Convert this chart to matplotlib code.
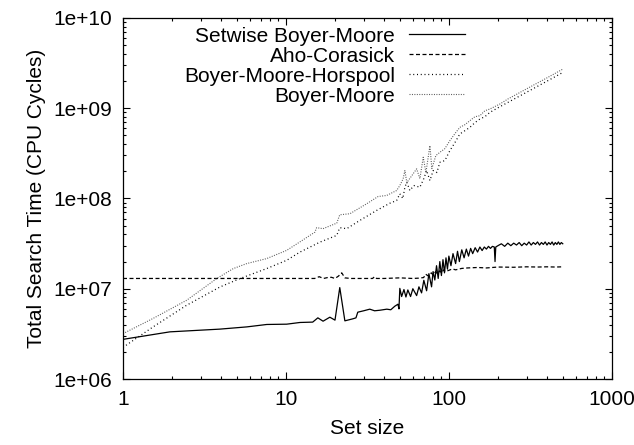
import matplotlib
matplotlib.use("Agg")
import matplotlib.pyplot as plt
from matplotlib.ticker import FixedLocator, FuncFormatter, NullFormatter, LogLocator

plt.rcParams['font.family'] = ['Liberation Sans', 'DejaVu Sans']
plt.rcParams['font.size'] = 15

# Setwise Boyer-Moore
sbm_x = [1, 1.94, 3.93, 5.76, 7.63, 10.1, 12.2, 14.6, 15.7, 16.9, 18.6, 20, 21.4, 23, 25.7,
         26.9, 27.6, 30, 32.7, 35, 37.7, 41.6, 44, 46.6, 48.7, 49.4, 50, 51.3, 53.0, 54.5,
         56.0, 58.2, 60.1, 63.4, 65.5, 68.0, 70.2, 73.0, 75.4, 78.3, 80, 82, 84, 86, 88,
         90, 92, 94, 96, 98, 100, 103, 106, 110, 113, 116, 120, 124, 128, 132, 136, 140,
         145, 150, 155, 160, 165, 170, 175, 180, 185, 190, 192, 194, 200, 210, 220, 230,
         240, 250, 260, 270, 280, 290, 300, 310, 320, 330, 340, 350, 360, 370, 380, 390,
         400, 410, 420, 430, 440, 450, 460, 470, 480, 490, 500]
sbm_y = [2.75e6, 3.33e6, 3.57e6, 3.78e6, 4.02e6, 4.05e6, 4.23e6, 4.27e6, 4.76e6, 4.37e6,
         4.84e6, 4.49e6, 1.03e7, 4.41e6, 4.64e6, 4.76e6, 5.5e6, 5.7e6, 5.94e6, 5.7e6,
         5.78e6, 5.94e6, 5.85e6, 6.41e6, 6.74e6, 5.98e6, 1.01e7, 8.2e6, 9.8e6, 8.1e6,
         9.7e6, 8.2e6, 1.0e7, 8.4e6, 1.05e7, 9.0e6, 1.24e7, 9.5e6, 1.47e7, 1.05e7, 1.55e7,
         1.25e7, 1.8e7, 1.3e7, 2.0e7, 1.4e7, 2.1e7, 1.5e7, 2.2e7, 1.65e7, 2.3e7, 1.8e7,
         2.45e7, 1.9e7, 2.6e7, 2.0e7, 2.7e7, 2.2e7, 2.75e7, 2.3e7, 2.8e7, 2.45e7, 2.85e7,
         2.55e7, 2.9e7, 2.65e7, 2.9e7, 2.75e7, 2.95e7, 2.8e7, 2.95e7, 2.9e7, 2.0e7, 2.9e7,
         3.0e7, 3.15e7, 2.95e7, 3.2e7, 3.0e7, 3.2e7, 3.05e7, 3.25e7, 3.0e7, 3.2e7, 3.05e7,
         3.3e7, 3.05e7, 3.25e7, 3.1e7, 3.3e7, 3.05e7, 3.25e7, 3.1e7, 3.3e7, 3.05e7, 3.25e7,
         3.1e7, 3.3e7, 3.05e7, 3.25e7, 3.1e7, 3.3e7, 3.1e7, 3.25e7, 3.15e7]

# Aho-Corasick
ac_x = [1, 2, 3, 5, 8, 12, 15, 16, 17, 18, 19, 20, 21, 22, 23, 25, 30, 34, 35, 36, 40, 50,
        60, 65, 70, 72, 75, 78, 80, 83, 85, 88, 90, 93, 95, 100, 105, 110, 120, 130, 150,
        170, 200, 250, 300, 350, 400, 450, 500]
ac_y = [1.30e7, 1.30e7, 1.30e7, 1.30e7, 1.30e7, 1.30e7, 1.30e7, 1.36e7, 1.30e7, 1.33e7,
        1.34e7, 1.30e7, 1.38e7, 1.50e7, 1.32e7, 1.30e7, 1.30e7, 1.30e7, 1.36e7, 1.30e7,
        1.30e7, 1.32e7, 1.30e7, 1.31e7, 1.33e7, 1.45e7, 1.38e7, 1.50e7, 1.42e7, 1.55e7,
        1.46e7, 1.58e7, 1.50e7, 1.62e7, 1.55e7, 1.60e7, 1.66e7, 1.62e7, 1.68e7, 1.70e7,
        1.72e7, 1.70e7, 1.74e7, 1.73e7, 1.75e7, 1.74e7, 1.75e7, 1.74e7, 1.75e7]

# Boyer-Moore-Horspool
bmh_x = [1, 1.05, 1.53, 2.46, 3.94, 5.22, 7.61, 10.1, 12.2, 16.2, 20.5, 21.4, 23.6, 28.4,
         36.0, 43.5, 47.8, 50, 52.2, 53.7, 55.2, 57.6, 61.0, 66.4, 70.2, 73.0, 76.5, 80.1,
         84.4, 88.1, 94.5, 101.4, 108.9, 116.8, 125.4, 134.6, 144.4, 155, 166.3, 178.4,
         205.5, 230, 300, 400, 500]
bmh_y = [2.23e6, 2.38e6, 3.78e6, 6.57e6, 1.047e7, 1.297e7, 1.672e7, 2.065e7, 2.55e7, 3.29e7,
         3.90e7, 4.75e7, 4.63e7, 5.71e7, 7.37e7, 8.87e7, 9.5e7, 1.127e8, 1.0e8, 1.333e8,
         1.514e8, 1.226e8, 1.392e8, 1.333e8, 1.663e8, 2.04e8, 1.58e8, 2.04e8, 1.94e8,
         2.52e8, 2.63e8, 3.39e8, 4.16e8, 5.19e8, 5.64e8, 6.14e8, 6.92e8, 7.6e8, 8.05e8,
         8.99e8, 1.039e9, 1.159e9, 1.504e9, 1.994e9, 2.49e9]

# Boyer-Moore
bm_x = [1, 1.53, 2.46, 3.76, 4.75, 5.74, 7.61, 10.1, 12.2, 15.06, 15.43, 16.9, 20.5, 21.4,
        24.7, 31.3, 36.8, 41.5, 47.8, 50.0, 52.4, 53.7, 55.2, 59.3, 63.4, 66.4, 69.6, 72.3,
        76.5, 78.6, 83.2, 88.1, 94.5, 101.4, 108.9, 116.8, 125.4, 134.6, 144.4, 155, 166.3,
        178.4, 205.5, 230, 300, 400, 500]
bm_y = [3.18e6, 4.69e6, 7.46e6, 1.297e7, 1.672e7, 1.899e7, 2.157e7, 2.66e7, 3.31e7, 4.24e7,
        4.75e7, 4.63e7, 5.33e7, 6.6e7, 6.78e7, 8.74e7, 1.052e8, 1.08e8, 1.226e8, 1.392e8,
        1.651e8, 2.04e8, 1.50e8, 1.795e8, 2.13e8, 1.663e8, 2.86e8, 1.94e8, 3.85e8, 2.146e8,
        2.99e8, 3.25e8, 3.57e8, 4.37e8, 5.23e8, 6.14e8, 6.57e8, 7.28e8, 8.05e8, 8.26e8,
        9.38e8, 9.8e8, 1.113e9, 1.264e9, 1.64e9, 2.17e9, 2.71e9]

x_ticks = [1, 10, 100, 1000]
y_ticks = [1e6, 1e7, 1e8, 1e9, 1e10]

fig = plt.figure(figsize=(6.34, 4.45), dpi=100)
ax = fig.add_axes([0.194, 0.1483, 0.771, 0.8113])

ax.plot(sbm_x, sbm_y, color='black', lw=0.9, label='Setwise Boyer-Moore')
ax.plot(ac_x, ac_y, color='black', lw=0.9, linestyle=(0, (3.2, 2.0)), label='Aho-Corasick')
ax.plot(bmh_x, bmh_y, color='black', lw=0.9, linestyle=(0, (0.8, 2.2)),
        label='Boyer-Moore-Horspool')
ax.plot(bm_x, bm_y, color='0.35', lw=0.8, linestyle=(0, (0.9, 1.3)), label='Boyer-Moore')

ax.set_xscale('log')
ax.set_yscale('log')
ax.set_xlim(1, 1000)
ax.set_ylim(1e6, 1e10)

ax.xaxis.set_major_locator(FixedLocator(x_ticks))
ax.xaxis.set_major_formatter(FuncFormatter(lambda v, p: f'{v:g}'))
ax.yaxis.set_major_locator(FixedLocator(y_ticks))
ax.yaxis.set_major_formatter(FuncFormatter(lambda v, p: f'{v:.0e}'))
ax.xaxis.set_minor_locator(LogLocator(base=10, subs=range(2, 10)))
ax.yaxis.set_minor_locator(LogLocator(base=10, subs=range(2, 10)))
ax.xaxis.set_minor_formatter(NullFormatter())
ax.yaxis.set_minor_formatter(NullFormatter())

ax.tick_params(which='both', direction='in', top=True, right=True, width=0.8)
ax.tick_params(which='major', length=5, pad=8)
ax.tick_params(which='minor', length=2.5)
for s in ax.spines.values():
    s.set_linewidth(0.9)

ax.set_xlabel('Set size', labelpad=7)
ax.set_ylabel('Total Search Time (CPU Cycles)', labelpad=5)

ax.legend(loc='upper right', bbox_to_anchor=(0.699, 0.976), frameon=False, markerfirst=False,
          handlelength=2.65, handletextpad=0.7, labelspacing=0.05, borderaxespad=0,
          borderpad=0)

fig.savefig('out.png', dpi=100)
